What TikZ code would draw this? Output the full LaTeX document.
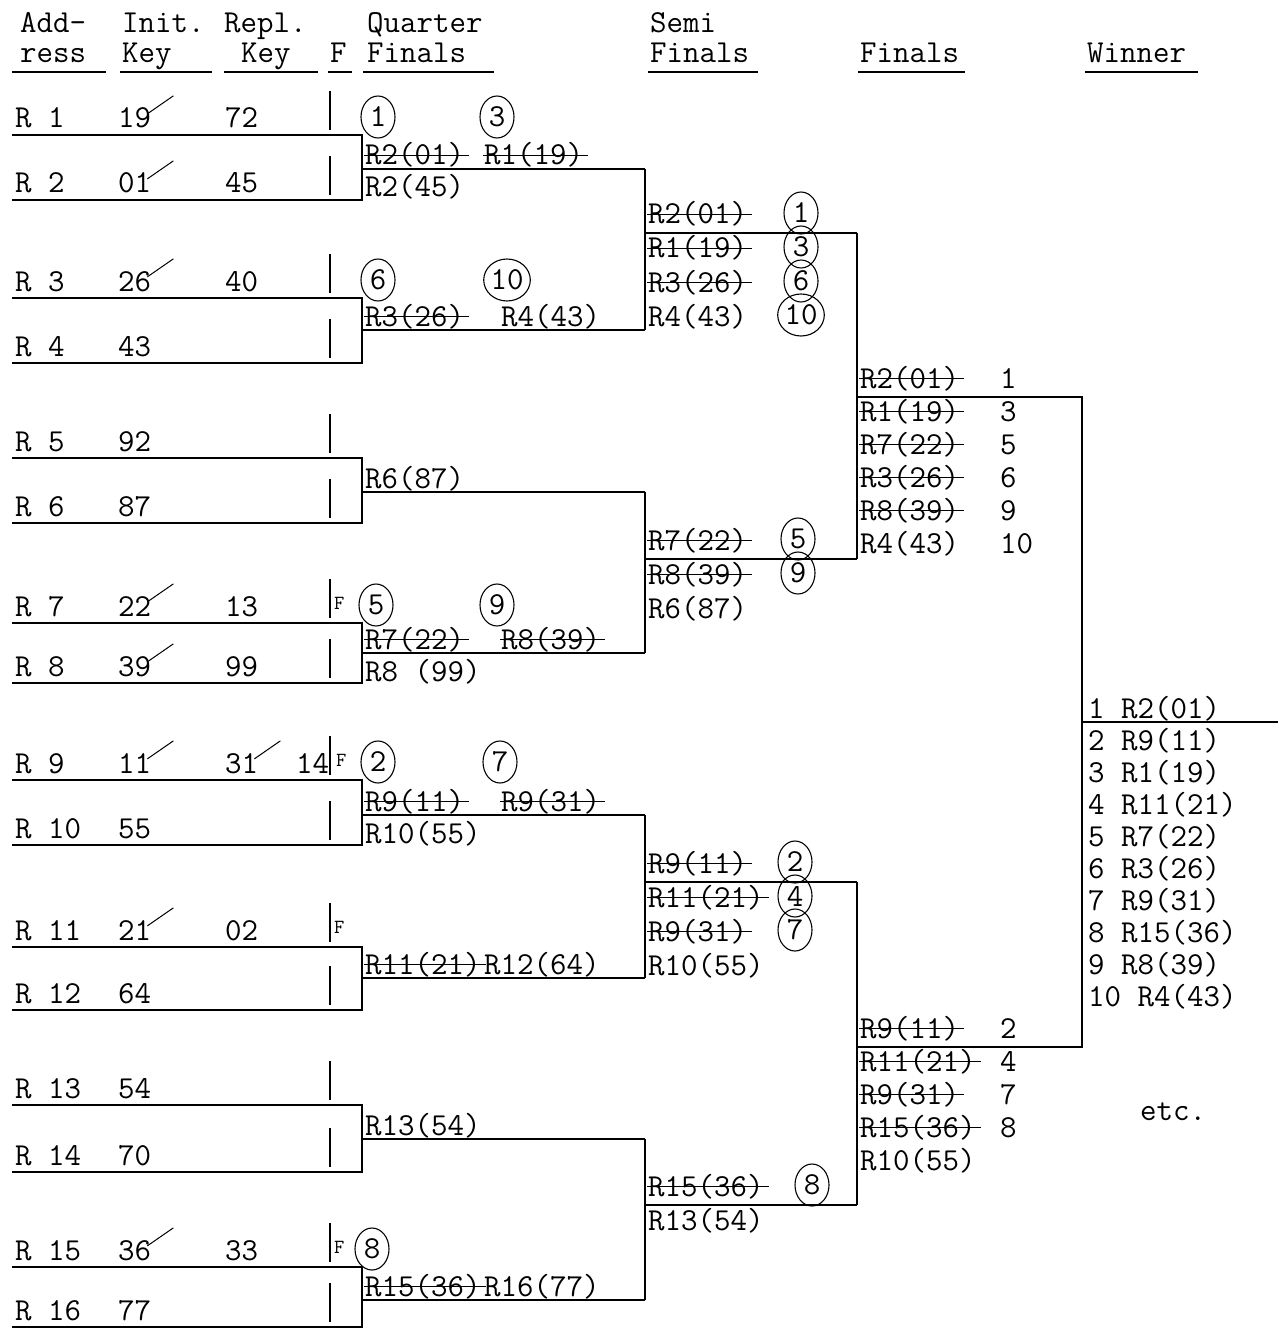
\documentclass[tikz,border=0pt]{standalone}
\usepackage{tikz}
\usetikzlibrary{shapes.geometric}
\newcommand{\twfont}{\fontsize{32}{32}\selectfont\ttfamily}
\newcommand{\flagfont}{\fontsize{20}{20}\selectfont\ttfamily}

\begin{document}
\begin{tikzpicture}[
  x=1pt, y=-1pt,
  font=\twfont,
  tw/.style={anchor=base west, inner sep=0pt},
  flag/.style={tw, font=\flagfont},
  ring/.style={draw, ellipse, line width=1.1pt, inner sep=0pt,
               minimum width=34pt, minimum height=42pt},
  ln/.style={line width=1.3pt},
  struck/.style={append after command={([xshift=-1pt]\tikzlastnode.west)
                 edge[line width=1pt] ([xshift=5pt]\tikzlastnode.east)}},
  crossed/.style={append after command={([xshift=-4pt,yshift=-6pt]\tikzlastnode.north east)
                 edge[line width=1pt] ([xshift=22pt,yshift=12pt]\tikzlastnode.north east)}}
]
\useasboundingbox (0,0) rectangle (1278,1332);
% headings
\node[tw] (hAdd) at (20,33) {Add-};
\node[tw] (hInit) at (122,33) {Init.};
\node[tw] (hRepl) at (224,33) {Repl.};
\node[tw] (hQuar) at (367,33) {Quarter};
\node[tw] (hSemi) at (650,33) {Semi};
\node[tw] (hRess) at (20,63) {ress};
\node[tw] (hKey) at (122,63) {Key};
\node[tw] (hKey2) at (241,63) {Key};
\node[tw] (hF) at (330,63) {F};
\node[tw] (hQF) at (367,63) {Finals};
\node[tw] (hSF) at (650,63) {Finals};
\node[tw] (hFin) at (860,63) {Finals};
\node[tw] (hWin) at (1087,63) {Winner};
\foreach \a/\b in {12/106,120/212,224/318,328/352,363/494,648/758,858/965,1085/1198}
  \draw[ln] (\a,72) -- (\b,72);
% records, with flag column bars
\foreach \i/\u in {1/135,2/200,3/298,4/363,5/458,6/523,7/623,8/683,
                   9/780,10/845,11/947,12/1010,13/1105,14/1172,15/1267,16/1327} {
  \node[tw] (r\i) at (15,\u-7) {R \i};
  \coordinate (a\i) at (12,\u);
  \coordinate (b\i) at (362,\u);
  \draw[ln] (330,\u-44) -- (330,\u-5);
}
% keys
\node[tw,crossed] (k1a) at (118,128) {19};
\node[tw] (k1b) at (225,128) {72};
\node[tw,crossed] (k2a) at (118,193) {01};
\node[tw] (k2b) at (225,193) {45};
\node[tw,crossed] (k3a) at (118,291) {26};
\node[tw] (k3b) at (225,291) {40};
\node[tw] (k4a) at (118,356) {43};
\node[tw] (k5a) at (118,451) {92};
\node[tw] (k6a) at (118,516) {87};
\node[tw,crossed] (k7a) at (118,616) {22};
\node[tw] (k7b) at (225,616) {13};
\node[flag] (f7) at (334,609) {F};
\node[tw,crossed] (k8a) at (118,676) {39};
\node[tw] (k8b) at (225,676) {99};
\node[tw,crossed] (k9a) at (118,773) {11};
\node[tw,crossed] (k9b) at (225,773) {31};
\node[tw] (k9c) at (296,773) {14};
\node[flag] (f9) at (336,766) {F};
\node[tw] (k10a) at (118,838) {55};
\node[tw,crossed] (k11a) at (118,940) {21};
\node[tw] (k11b) at (225,940) {02};
\node[flag] (f11) at (334,933) {F};
\node[tw] (k12a) at (118,1003) {64};
\node[tw] (k13a) at (118,1098) {54};
\node[tw] (k14a) at (118,1165) {70};
\node[tw,crossed] (k15a) at (118,1260) {36};
\node[tw] (k15b) at (225,1260) {33};
\node[flag] (f15) at (334,1253) {F};
\node[tw] (k16a) at (118,1320) {77};
% quarter finals
\node[ring] (c1) at (378,117) {1};
\node[ring] (c3) at (497,117) {3};
\node[tw,struck] (qa1) at (365,165) {R2(01)};
\node[tw,struck] (qb1) at (484,165) {R1(19)};
\node[tw] (qc1) at (365,197) {R2(45)};
\node[ring] (c6) at (378,280) {6};
\node[ring] (c10) at (507,280) {10};
\node[tw,struck] (qa2) at (365,326) {R3(26)};
\node[tw] (qb2) at (501,326) {R4(43)};
\node[tw] (qa3) at (365,488) {R6(87)};
\node[ring] (c5) at (376,605) {5};
\node[ring] (c9) at (497,605) {9};
\node[tw,struck] (qa4) at (365,649) {R7(22)};
\node[tw,struck] (qb4) at (501,649) {R8(39)};
\node[tw] (qc4) at (365,681) {R8 (99)};
\node[ring] (c2) at (378,762) {2};
\node[ring] (c7) at (500,762) {7};
\node[tw,struck] (qa5) at (365,811) {R9(11)};
\node[tw,struck] (qb5) at (501,811) {R9(31)};
\node[tw] (qc5) at (365,843) {R10(55)};
\node[tw,struck] (qa6) at (365,974) {R11(21)};
\node[tw] (qb6) at (484,974) {R12(64)};
\node[tw] (qa7) at (365,1135) {R13(54)};
\node[ring] (c8) at (372,1249) {8};
\node[tw,struck] (qa8) at (365,1296) {R15(36)};
\node[tw] (qb8) at (484,1296) {R16(77)};
% semi finals
\foreach \t [count=\n from 0] in {R2(01),R1(19),R3(26)}
  \node[tw,struck] (sa\n) at (648,224+34*\n) {\t};
\node[tw] (sa3) at (648,326) {R4(43)};
\foreach \c [count=\n from 0] in {1,3,6,10}
  \node[ring] (sar\n) at (801,213+34*\n) {\c};
\foreach \t [count=\n from 0] in {R7(22),R8(39)}
  \node[tw,struck] (sb\n) at (648,550+34*\n) {\t};
\node[tw] (sb2) at (648,618) {R6(87)};
\foreach \c [count=\n from 0] in {5,9}
  \node[ring] (sbr\n) at (798,539+34*\n) {\c};
\foreach \t [count=\n from 0] in {R9(11),R11(21),R9(31)}
  \node[tw,struck] (sc\n) at (648,873+34*\n) {\t};
\node[tw] (sc3) at (648,975) {R10(55)};
\foreach \c [count=\n from 0] in {2,4,7}
  \node[ring] (scr\n) at (795,862+34*\n) {\c};
\node[tw,struck] (sd0) at (648,1196) {R15(36)};
\node[tw] (sd1) at (648,1230) {R13(54)};
\node[ring] (sdr0) at (812,1185) {8};
% finals
\foreach \t [count=\n from 0] in {R2(01),R1(19),R7(22),R3(26),R8(39)}
  \node[tw,struck] (fa\n) at (860,388+33*\n) {\t};
\node[tw] (fa5) at (860,553) {R4(43)};
\foreach \m [count=\n from 0] in {1,3,5,6,9,10}
  \node[tw] (fan\n) at (1000,388+33*\n) {\m};
\foreach \t [count=\n from 0] in {R9(11),R11(21),R9(31),R15(36)}
  \node[tw,struck] (fb\n) at (860,1038+33*\n) {\t};
\node[tw] (fb4) at (860,1170) {R10(55)};
\foreach \m [count=\n from 0] in {2,4,7,8}
  \node[tw] (fbn\n) at (1000,1038+33*\n) {\m};
% winner
\foreach \t [count=\n from 0] in {1 R2(01),2 R9(11),3 R1(19),4 R11(21),5 R7(22),
                                   6 R3(26),7 R9(31),8 R15(36),9 R8(39),10 R4(43)}
  \node[tw] (w\n) at (1088,718+32*\n) {\t};
\node[tw] (etc) at (1140,1120) {etc.};
% tree lines
\foreach \k/\y in {1/169,2/330,3/492,4/653,5/815,6/978,7/1139,8/1300} {
  \coordinate (q\k) at (362,\y);
  \coordinate (p\k) at (645,\y);
}
\foreach \k/\y in {1/233,2/559,3/882,4/1205} {
  \coordinate (s\k) at (645,\y);
  \coordinate (t\k) at (857,\y);
}
\coordinate (u1) at (857,397);
\coordinate (v1) at (1082,397);
\coordinate (u2) at (857,1047);
\coordinate (v2) at (1082,1047);
\coordinate (wa) at (1082,722);
\coordinate (wb) at (1278,722);
\foreach \i/\j/\k in {1/2/1,3/4/2,5/6/3,7/8/4,9/10/5,11/12/6,13/14/7,15/16/8} {
  \draw[ln] (a\i) -- (b\i) -- (b\j) -- (a\j);
  \draw[ln] (q\k) -- (p\k);
}
\draw[ln] (p1) -- (p2);
\draw[ln] (p3) -- (p4);
\draw[ln] (p5) -- (p6);
\draw[ln] (p7) -- (p8);
\foreach \k in {1,...,4}
  \draw[ln] (s\k) -- (t\k);
\draw[ln] (t1) -- (t2);
\draw[ln] (t3) -- (t4);
\draw[ln] (u1) -- (v1) -- (v2) -- (u2);
\draw[ln] (wa) -- (wb);
\end{tikzpicture}
\end{document}
